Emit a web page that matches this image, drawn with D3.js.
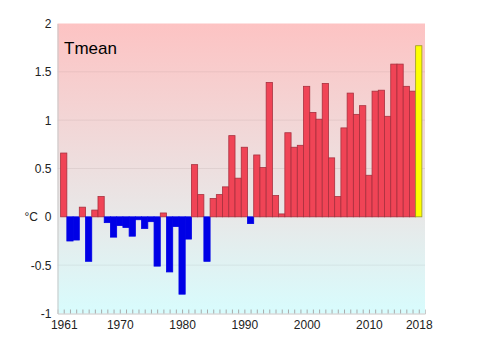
<!DOCTYPE html>
<html><head><meta charset="utf-8">
<script src="https://cdn.jsdelivr.net/npm/d3@7"></script>
<style>body{margin:0;background:#fff}svg{display:block}text{font-family:"Liberation Sans",Arial,sans-serif}</style>
</head><body><svg id="c" width="479" height="360"></svg>
<script>
const years = d3.range(1961, 2019);
const values = [0.66,-0.25,-0.24,0.10,-0.46,0.07,0.21,-0.06,-0.21,-0.09,
  -0.11,-0.20,-0.03,-0.12,-0.05,-0.51,0.04,-0.57,-0.10,-0.80,
  -0.23,0.54,0.23,-0.46,0.19,0.23,0.31,0.84,0.40,0.72,
  -0.07,0.64,0.51,1.39,0.22,0.03,0.87,0.72,0.74,1.35,
  1.08,1.01,1.38,0.61,0.21,0.92,1.28,1.06,1.15,0.43,
  1.30,1.31,1.04,1.58,1.58,1.35,1.30,1.77];
const yTicks = [-1,-0.5,0,0.5,1,1.5,2];
const yTickLabels = ["-1","-0.5","0","0.5","1","1.5","2"];
const xTicks = [1961,1970,1980,1990,2000,2010,2018];
const title = "Tmean";
const unit = "°C";

const svg = d3.select("#c");
const L=57.5, R=425, T=23.5, B=313.5;
const x = d3.scaleLinear().domain([1960,2019]).range([L,R]);
const y = d3.scaleLinear().domain([-1,2]).range([B,T]);

const defs = svg.append("defs");
const g = defs.append("linearGradient").attr("id","bg").attr("x1",0).attr("x2",0).attr("y1",0).attr("y2",1);
const z = (y(0)-T)/(B-T);
g.append("stop").attr("offset",0).attr("stop-color","#fdc3c3");
g.append("stop").attr("offset",z).attr("stop-color","#e8e8e8");
g.append("stop").attr("offset",1).attr("stop-color","#d8fcfd");
svg.append("rect").attr("x",L).attr("y",T).attr("width",R-L).attr("height",B-T).attr("fill","url(#bg)");

// gridlines
svg.append("g").selectAll("line").data(yTicks.filter(v=>v>-1&&v<2&&v!==0)).join("line")
  .attr("x1",L).attr("x2",R).attr("y1",d=>y(d)).attr("y2",d=>y(d))
  .attr("stroke","#000").attr("stroke-opacity",0.06).attr("stroke-width",1);

svg.append("text").attr("x",64).attr("y",54).attr("font-size",17).attr("fill","#000").text(title);

const bw = x(1)-x(0);
svg.append("g").selectAll("rect").data(years.map((yr,i)=>({yr,v:values[i]}))).join("rect")
  .attr("x",d=>x(d.yr)-bw/2).attr("width",bw)
  .attr("y",d=>y(Math.max(0,d.v))).attr("height",d=>Math.abs(y(d.v)-y(0)))
  .attr("fill",d=>d.yr===2018?"#ffff00":(d.v>=0?"#f04456":"#0000e6"))
  .attr("stroke",d=>d.yr===2018?"#9a9a20":(d.v>=0?"#a8303e":"#0000e6"))
  .attr("stroke-width",0.8);

// axes
const ya = d3.axisLeft(y).tickValues(yTicks).tickFormat((d,i)=>yTickLabels[i]).tickSize(0).tickPadding(6);
const yg = svg.append("g").attr("transform",`translate(${L},0)`).call(ya);
yg.select(".domain").attr("stroke","#c8c8c8");
yg.selectAll("text").attr("font-size",12).attr("fill","#222").style("font-family","Liberation Sans, Arial, sans-serif");

const xa = d3.axisBottom(x).tickValues(years).tickSize(-4).tickFormat("");
const xg = svg.append("g").attr("transform",`translate(0,${B})`).call(xa);
xg.select(".domain").attr("stroke","#c8c8c8");
xg.selectAll(".tick line").attr("stroke","#aaa");
const xl = d3.axisBottom(x).tickValues(xTicks).tickSize(0).tickPadding(7).tickFormat(d3.format("d"));
const xlg = svg.append("g").attr("transform",`translate(0,${B})`).call(xl);
xlg.select(".domain").remove();
xlg.selectAll("text").attr("font-size",12).attr("fill","#222").style("font-family","Liberation Sans, Arial, sans-serif");

svg.append("text").attr("x",38).attr("y",y(0)+4).attr("text-anchor","end").attr("font-size",12).attr("fill","#222").text(unit);
</script></body></html>
